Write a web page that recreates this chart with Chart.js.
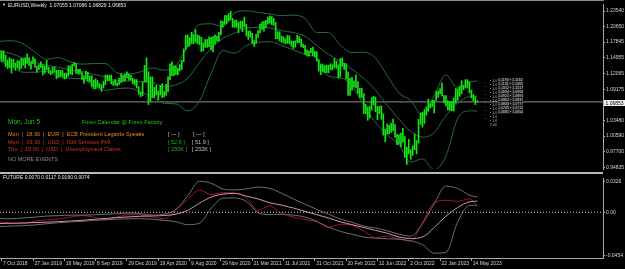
<!DOCTYPE html>
<html><head><meta charset="utf-8">
<script src="https://cdn.jsdelivr.net/npm/chart.js@4.4.0/dist/chart.umd.min.js"></script>
<style>
html,body{margin:0;padding:0;background:#000;width:625px;height:269px;overflow:hidden;}
#wrap{position:relative;width:625px;height:269px;background:#000;}
canvas{position:absolute;left:0;}
.t{position:absolute;white-space:pre;font-family:"Liberation Sans",Arial,sans-serif;line-height:1;}
</style></head><body>
<div id="wrap">
<canvas id="main" width="625" height="173" style="top:0;width:625px;height:173px"></canvas>
<canvas id="sub" width="625" height="95" style="top:174px;width:625px;height:95px"></canvas>
<div style="position:absolute;left:0;top:0;width:604px;height:1px;background:#8a8a8a"></div>
<div style="position:absolute;left:0;top:172px;width:603px;height:2px;background:#b8b8b8"></div>

<div class="t" style="left:2px;top:3px;font-size:4px;color:#e0e0e0">▼</div>
<div class="t" style="left:8px;top:2.5px;font-size:5px;color:#e8e8e8">EURUSD,Weekly  1.07055 1.07086 1.06829 1.06853</div>
<div class="t" style="left:3px;top:174.5px;font-size:5px;color:#e8e8e8">FUTURE 0.0070 0.0117 0.0160 0.0074</div>

<div class="t" style="left:8px;top:119px;font-size:6.5px;color:#1ec81e">Mon, Jun 5</div>
<div class="t" style="left:82px;top:119.8px;font-size:5.5px;color:#1ec81e">Forex Calendar @ Forex Factory</div>
<div class="t" style="left:8px;top:132.3px;font-size:5.5px;color:#e08a2c">Mon  |  18:30  |  EUR  |  ECB President Lagarde Speaks</div>
<div class="t" style="left:8px;top:139.8px;font-size:5.5px;color:#d8321e">Mon  |  19:30  |  USD  |  ISM Services PMI</div>
<div class="t" style="left:8px;top:147.3px;font-size:5.5px;color:#d8321e">Thu  |  15:00  |  USD  |  Unemployment Claims</div>
<div class="t" style="left:8px;top:157.3px;font-size:5.5px;color:#8c8c8c">NO MORE EVENTS</div>
<div class="t" style="left:168px;top:132.3px;font-size:5.5px;color:#c8c8c8">[ --- ]</div>
<div class="t" style="left:193px;top:132.3px;font-size:5.5px;color:#c8c8c8">[ --- ]</div>
<div class="t" style="left:168px;top:139.8px;font-size:5.5px;color:#22b822">[ 52.6 ]</div>
<div class="t" style="left:192px;top:139.8px;font-size:5.5px;color:#c8c8c8">[ 51.9 ]</div>
<div class="t" style="left:168px;top:147.3px;font-size:5.5px;color:#22b822">[ 230K ]</div>
<div class="t" style="left:192px;top:147.3px;font-size:5.5px;color:#c8c8c8">[ 232K ]</div>

<div class="t" style="left:484px;top:81px;font-size:3.6px;line-height:4px;color:#9a9a9a">: ·<br>·:·<br>: ·<br>·:·<br>: ·<br>·:·<br>: ·<br>·:·<br>: ·<br>·:·<br>  ·</div>
<div class="t" style="left:490px;top:79px;font-size:3.6px;line-height:4px;color:#b8b8b8">▪ 1.0<br>▪ 1.0<br>▪ 1.0<br>▪ 1.0<br>▪ 1.0<br>▪ 1.0<br>▪ 1.0<br>▪ 1.0<br>▪ 1.0<br>▪ 1.0<br>▪ 1.0<br>2.00</div>
<div class="t" style="left:498px;top:78px;font-size:3.6px;line-height:4px;color:#dcdcdc;background:#1a1a1a">1.1195 ▪ 1.1162<br>1.1131 ▪ 1.1095<br>1.1052 ▪ 1.1017<br>1.0994 ▪ 1.0958<br>1.0921 ▪ 1.0893<br>1.0862 ▪ 1.0831<br>1.0803 ▪ 1.0777<br>1.0745 ▪ 1.0712<br>1.0681 ▪ 1.0654<br></div>

<div style="position:absolute;left:604px;top:100px;width:21px;height:6px;background:#f0f0f0"></div>
<div class="t" style="left:605.5px;top:100.6px;font-size:5px;color:#000">1.06853</div>
</div>
<script>
// ---------- data ----------
const firstIdx = -1;            // week of 30 Sep 2018
const lastClose = 1.06853;
const highs = [1.1625,1.1622,1.1622,1.1545,1.1456,1.1500,1.1472,1.1472,1.1402,1.1442,1.1442,1.1486,1.1478,1.1497,1.1570,1.1499,1.1427,1.1514,1.1475,1.1342,
1.1372,1.1420,1.1367,1.1345,1.1448,1.1326,1.1254,1.1324,1.1324,1.1265,1.1265,1.1264,1.1265,1.1215,1.1216,1.1348,1.1348,1.1375,1.1413,1.1394,
1.1286,1.1283,1.1226,1.1163,1.1250,1.1230,1.1160,1.1164,1.1085,1.1110,1.1076,1.1025,1.0999,1.1063,1.1179,1.1179,1.1175,1.1180,1.1070,1.1097,
1.1040,1.1117,1.1200,1.1175,1.1190,1.1240,1.1200,1.1173,1.1119,1.1097,1.1096,1.0965,1.0864,1.1054,1.1355,1.1495,1.1240,1.1147,1.1145,1.0952,
1.0990,1.0886,1.0990,1.1019,1.0876,1.1008,1.1145,1.1384,1.1422,1.1348,1.1349,1.1302,1.1371,1.1452,1.1660,1.1908,1.1916,1.1865,1.1966,1.1920,
1.2011,1.1917,1.1900,1.1872,1.1770,1.1831,1.1831,1.1881,1.1870,1.1891,1.1920,1.1893,1.1965,1.2177,1.2167,1.2273,1.2272,1.2310,1.2349,1.2222,
1.2189,1.2190,1.2150,1.2169,1.2170,1.2243,1.2113,1.1990,1.1989,1.1946,1.1814,1.1927,1.1994,1.2117,1.2150,1.2168,1.2182,1.2245,1.2266,1.2255,
1.2218,1.2144,1.1975,1.1975,1.1895,1.1880,1.1850,1.1909,1.1900,1.1807,1.1803,1.1809,1.1909,1.1884,1.1846,1.1750,1.1727,1.1640,1.1624,1.1669,
1.1692,1.1616,1.1609,1.1464,1.1374,1.1383,1.1355,1.1360,1.1360,1.1386,1.1369,1.1482,1.1437,1.1369,1.1483,1.1495,1.1395,1.1390,1.1233,1.1121,
1.1137,1.1070,1.1185,1.1054,1.0936,1.0936,1.0836,1.0641,1.0595,1.0606,1.0764,1.0787,1.0774,1.0602,1.0605,1.0615,1.0465,1.0185,1.0278,1.0254,
1.0294,1.0368,1.0267,1.0090,1.0079,1.0112,1.0198,1.0050,0.9853,0.9999,0.9808,0.9875,1.0093,0.9976,1.0364,1.0481,1.0497,1.0545,1.0594,1.0737,
1.0657,1.0714,1.0714,1.0874,1.0887,1.0929,1.1033,1.0800,1.0804,1.0708,1.0691,1.0694,1.0760,1.0930,1.0926,1.0973,1.1076,1.0990,1.1095,1.1092,
1.1054,1.0904,1.0828,1.0779,1.07086];
const lows = [1.1463,1.1432,1.1431,1.1335,1.1301,1.1315,1.1216,1.1325,1.1267,1.1310,1.1269,1.1300,1.1360,1.1310,1.1393,1.1350,1.1289,1.1390,1.1323,1.1234,
1.1280,1.1318,1.1176,1.1212,1.1272,1.1211,1.1183,1.1215,1.1226,1.1110,1.1135,1.1159,1.1150,1.1107,1.1116,1.1160,1.1202,1.1181,1.1346,1.1208,
1.1193,1.1200,1.1101,1.1027,1.1109,1.1066,1.1052,1.0964,1.0926,1.0927,1.0968,1.0940,1.0879,1.0942,1.1000,1.1073,1.1072,1.1014,1.0989,1.0991,
1.0981,1.1000,1.1040,1.1066,1.1065,1.1125,1.1085,1.1087,1.1020,1.0992,1.0940,1.0827,1.0778,1.0800,1.1052,1.1055,1.0636,1.0689,1.0768,1.0768,
1.0813,1.0727,1.0812,1.0767,1.0775,1.0810,1.0870,1.1095,1.1168,1.1168,1.1190,1.1186,1.1253,1.1281,1.1424,1.1640,1.1696,1.1711,1.1752,1.1753,
1.1780,1.1753,1.1737,1.1612,1.1625,1.1686,1.1689,1.1702,1.1640,1.1603,1.1745,1.1802,1.1802,1.1923,1.2059,1.2110,1.2129,1.2170,1.2193,1.2055,
1.2054,1.2058,1.1952,1.2034,1.1976,1.2065,1.1894,1.1836,1.1873,1.1762,1.1704,1.1761,1.1871,1.1953,1.2018,1.1985,1.2051,1.2118,1.2133,1.2104,
1.2093,1.1847,1.1847,1.1807,1.1782,1.1772,1.1752,1.1760,1.1754,1.1706,1.1664,1.1694,1.1770,1.1772,1.1700,1.1683,1.1563,1.1529,1.1524,1.1586,
1.1535,1.1513,1.1432,1.1251,1.1186,1.1235,1.1227,1.1222,1.1221,1.1276,1.1272,1.1315,1.1300,1.1121,1.1150,1.1340,1.1280,1.1106,1.0806,1.0806,
1.0900,1.0960,1.0945,1.0837,1.0757,1.0766,1.0472,1.0470,1.0349,1.0389,1.0532,1.0627,1.0506,1.0359,1.0469,1.0366,1.0072,0.9952,1.0097,1.0097,
1.0123,1.0158,1.0033,0.9901,0.9910,0.9864,0.9944,0.9667,0.9536,0.9733,0.9632,0.9705,0.9807,0.9730,0.9928,1.0271,1.0223,1.0290,1.0443,1.0512,
1.0573,1.0600,1.0483,1.0713,1.0767,1.0835,1.0794,1.0669,1.0613,1.0533,1.0532,1.0524,1.0516,1.0660,1.0714,1.0788,1.0831,1.0911,1.0940,1.0942,
1.0850,1.0760,1.0701,1.0635,1.06829];

const bandIdx = [-1,5,11,17,23,29,35,41,47,53,59,65,71,77,83,89,95,101,107,113,119,125,131,137,143,149,155,161,167,173,179,185,191,197,203,209,215,221,227,233,239,243];
const bandUpper = [1.180,1.181,1.175,1.160,1.147,1.150,1.142,1.138,1.139,1.139,1.122,1.120,1.124,1.131,1.127,1.135,1.172,1.211,1.212,1.207,1.232,1.236,1.233,1.230,1.227,1.228,1.222,1.196,1.196,1.173,1.159,1.160,1.149,1.117,1.085,1.071,1.044,1.080,1.118,1.094,1.105,1.107];
const bandMid = [1.162,1.157,1.149,1.1415,1.136,1.1323,1.1266,1.1243,1.119,1.1145,1.1073,1.1069,1.1055,1.1041,1.0968,1.0999,1.1119,1.1405,1.1665,1.1851,1.1951,1.2042,1.2054,1.2043,1.1995,1.1960,1.1892,1.1720,1.1559,1.1431,1.1285,1.1118,1.0900,1.0624,1.0371,1.0141,1.0039,1.0122,1.0435,1.0661,1.0786,1.0792];
const bandLower = [1.144,1.133,1.123,1.123,1.125,1.115,1.112,1.111,1.099,1.090,1.093,1.094,1.087,1.077,1.066,1.065,1.052,1.070,1.121,1.163,1.158,1.172,1.178,1.179,1.172,1.164,1.156,1.148,1.116,1.113,1.098,1.063,1.031,1.008,0.990,0.958,0.964,0.944,0.969,1.038,1.052,1.052];

const futRed = [-0.0100,-0.0115,-0.0120,-0.0092,-0.0080,-0.0072,-0.0050,-0.0035,-0.0050,-0.0080,-0.0050,-0.0025,-0.0028,-0.0050,-0.0067,0.0020,0.0135,0.0233,0.0185,0.0205,0.0200,0.0150,0.0020,0.0065,-0.0010,-0.0050,-0.0075,-0.0100,-0.0160,-0.0125,-0.0135,-0.0200,-0.0265,-0.0250,-0.0280,-0.0300,-0.0110,0.0100,0.0125,0.0115,0.0140,0.0070];
const futPink = [-0.0118,-0.0115,-0.0112,-0.0108,-0.0104,-0.0098,-0.0092,-0.0085,-0.0075,-0.0065,-0.0055,-0.0048,-0.0042,-0.0038,-0.0034,-0.0020,0.0020,0.0095,0.0160,0.0190,0.0200,0.0170,0.0140,0.0100,0.0075,0.0045,0.0010,-0.0025,-0.0060,-0.0100,-0.0130,-0.0160,-0.0190,-0.0220,-0.0260,-0.0275,-0.0260,-0.0160,-0.0040,0.0050,0.0110,0.0117];
const futGrayUp = [-0.0067,-0.0067,-0.0060,-0.0050,-0.0040,-0.0035,-0.0030,-0.0030,-0.0027,-0.0020,-0.0015,-0.0008,-0.0015,-0.0030,-0.0020,0.0030,0.0170,0.0326,0.0305,0.0245,0.0235,0.0245,0.0265,0.0250,0.0200,0.0140,0.0085,0.0030,-0.0020,-0.0070,-0.0105,-0.0145,-0.0165,-0.0195,-0.0230,-0.0250,-0.0120,0.0090,0.0275,0.0250,0.0180,0.0160];
const futGrayLo = [-0.0150,-0.0145,-0.0140,-0.0133,-0.0120,-0.0110,-0.0100,-0.0095,-0.0085,-0.0078,-0.0072,-0.0068,-0.0067,-0.0073,-0.0085,-0.0100,-0.0130,-0.0115,0.0040,0.0148,0.0150,0.0115,-0.0005,-0.0025,-0.0020,-0.0030,-0.0050,-0.0095,-0.0155,-0.0200,-0.0230,-0.0260,-0.0272,-0.0278,-0.0283,-0.0300,-0.0340,-0.0430,-0.0420,-0.0100,0.0072,0.0074];

const xTickIdx = [0,16,32,48,64,80,96,112,128,144,160,176,192,208,224,240];
const xTickLabels = ['7 Oct 2018','27 Jan 2019','19 May 2019','8 Sep 2019','29 Dec 2019','19 Apr 2020','9 Aug 2020','29 Nov 2020','21 Mar 2021','11 Jul 2021','31 Oct 2021','20 Feb 2022','12 Jun 2022','2 Oct 2022','22 Jan 2023','14 May 2023'];
const priceTicks = [1.23540,1.20650,1.17845,1.14955,1.12065,1.09175,1.06285,1.03480,1.00590,0.97700,0.94835];
const priceTickLabels = ['1.23540','1.20650','1.17845','1.14955','1.12065','1.09175','1.06285','1.03480','1.00590','0.97700','0.94835'];
const subTicks = [0.0326,0,-0.0454];
const subTickLabels = ['0.0326','0.00','-0.0454'];

// ---------- charts ----------
const X_MIN = -0.87, X_MAX = 307.25;
Chart.defaults.font.family = '"Liberation Sans", Arial, sans-serif';
const axisCol = '#a8a8a8', labelCol = '#d4d4d4';
const pts = (xs, ys) => xs.map((x,k)=>({x, y: ys[k]}));
const lineDs = (data, color, extra) => Object.assign({type:'line', data, borderColor:color, borderWidth:1, pointRadius:0, fill:false, cubicInterpolationMode:'monotone'}, extra||{});

new Chart(document.getElementById('main'), {
  type:'bar',
  data:{datasets:[
    {type:'bar', data: highs.map((h,k)=>({x:firstIdx+k, y:[lows[k], h]})), backgroundColor:'#14e614', borderWidth:0, barThickness:1, order:1},
    lineDs(pts(bandIdx, bandUpper), '#1f7040', {order:2}),
    lineDs(pts(bandIdx, bandMid), '#1f7040', {order:2}),
    lineDs(pts(bandIdx, bandLower), '#1f7040', {order:2}),
    lineDs([{x:X_MIN,y:lastClose},{x:X_MAX,y:lastClose}], '#8c8c8c', {order:3})
  ]},
  options:{
    responsive:false, animation:false, events:[],
    layout:{padding:{top:2,bottom:1,left:0,right:0}},
    plugins:{legend:{display:false}, tooltip:{enabled:false}},
    scales:{
      x:{type:'linear', min:X_MIN, max:X_MAX, display:false, offset:false},
      y:{position:'right', min:0.94531, max:1.24842,
         afterBuildTicks(s){ s.ticks = priceTicks.map(v=>({value:v})); },
         afterFit(s){ s.width = 22; },
         ticks:{autoSkip:false, color:labelCol, font:{size:5}, padding:1, callback:(v,i)=>priceTickLabels[i]},
         grid:{drawOnChartArea:false, tickLength:2, color:axisCol},
         border:{color:axisCol}}
    }
  }
});

new Chart(document.getElementById('sub'), {
  type:'line',
  data:{datasets:[
    lineDs([{x:X_MIN,y:0},{x:X_MAX,y:0}], '#c8c8c8', {borderDash:[1,2], cubicInterpolationMode:'default'}),
    lineDs(pts(bandIdx, futGrayUp), '#6e6e6e'),
    lineDs(pts(bandIdx, futGrayLo), '#6e6e6e'),
    lineDs(pts(bandIdx, futPink), '#cf9aa4'),
    lineDs(pts(bandIdx, futRed), '#a80e2a')
  ]},
  options:{
    responsive:false, animation:false, events:[],
    layout:{padding:{top:0,bottom:0,left:0,right:0}},
    plugins:{legend:{display:false}, tooltip:{enabled:false}},
    scales:{
      x:{type:'linear', min:X_MIN, max:X_MAX, offset:false,
         afterBuildTicks(s){ s.ticks = xTickIdx.map(v=>({value:v})); },
         afterFit(s){ s.height = 11; },
         ticks:{autoSkip:false, maxRotation:0, minRotation:0, align:'start', color:labelCol, font:{size:5}, padding:0, callback:(v,i)=>' '+xTickLabels[i]},
         grid:{drawOnChartArea:false, tickLength:3, color:axisCol},
         border:{color:axisCol}},
      y:{position:'right', min:-0.048, max:0.036,
         afterBuildTicks(s){ s.ticks = subTicks.map(v=>({value:v})); },
         afterFit(s){ s.width = 22; },
         ticks:{autoSkip:false, color:labelCol, font:{size:5}, padding:1, callback:(v,i)=>subTickLabels[i]},
         grid:{drawOnChartArea:false, tickLength:2, color:axisCol},
         border:{color:axisCol}}
    }
  }
});
</script>
</body></html>
